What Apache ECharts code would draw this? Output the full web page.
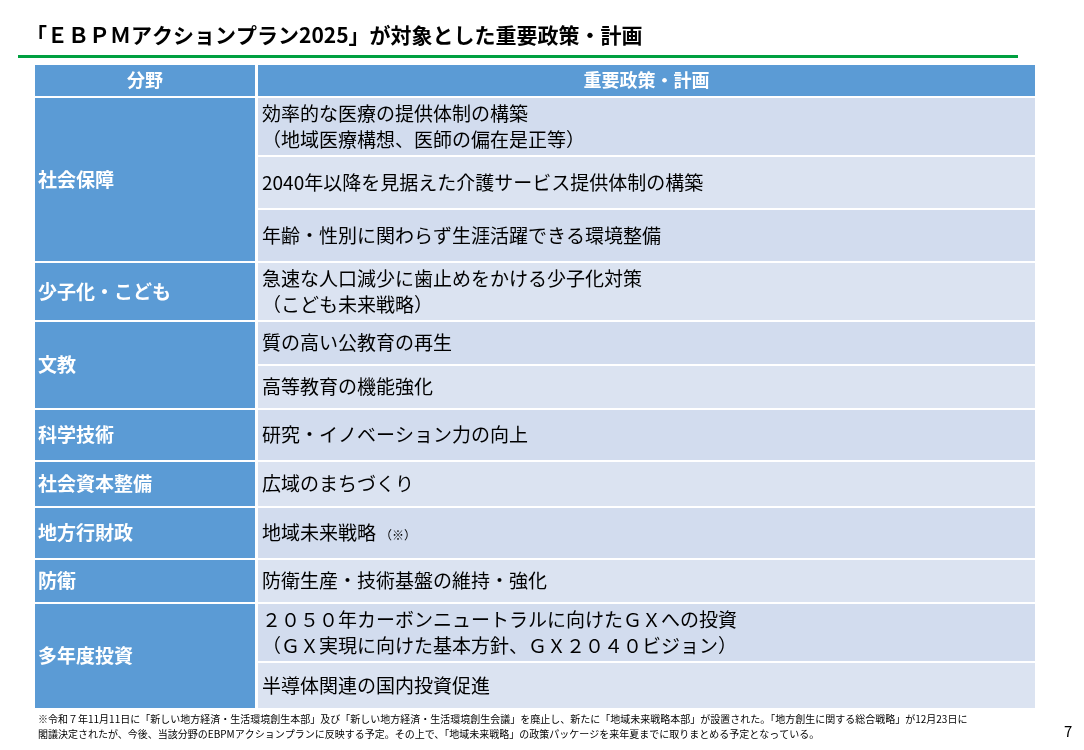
<!DOCTYPE html>
<html><head><meta charset="utf-8">
<script src="https://cdn.jsdelivr.net/npm/echarts@6/dist/echarts.min.js"></script>
<style>html,body{margin:0;padding:0;background:#fff}#c{width:1084px;height:750px}</style>
</head><body><div id="c"></div>
<script>
const title = "「ＥＢＰＭアクションプラン2025」が対象とした重要政策・計画";
const headers = ["分野", "重要政策・計画"];
const fields = ["社会保障", "少子化・こども", "文教", "科学技術", "社会資本整備", "地方行財政", "防衛", "多年度投資"];
const fieldRowCounts = [3, 1, 2, 1, 1, 1, 1, 2];
const policies = [
  "効率的な医療の提供体制の構築\n（地域医療構想、医師の偏在是正等）",
  "2040年以降を見据えた介護サービス提供体制の構築",
  "年齢・性別に関わらず生涯活躍できる環境整備",
  "急速な人口減少に歯止めをかける少子化対策\n（こども未来戦略）",
  "質の高い公教育の再生",
  "高等教育の機能強化",
  "研究・イノベーション力の向上",
  "広域のまちづくり",
  "地域未来戦略",
  "防衛生産・技術基盤の維持・強化",
  "２０５０年カーボンニュートラルに向けたＧＸへの投資\n（ＧＸ実現に向けた基本方針、ＧＸ２０４０ビジョン）",
  "半導体関連の国内投資促進"
];
const policyNotes = ["", "", "", "", "", "", "", "", "（※）", "", "", ""];
const rowHeights = [57, 51, 51, 57, 42, 42, 50, 44, 50, 42, 57, 45];
const footnote = "※令和７年11月11日に「新しい地方経済・生活環境創生本部」及び「新しい地方経済・生活環境創生会議」を廃止し、新たに「地域未来戦略本部」が設置された。「地方創生に関する総合戦略」が12月23日に\n閣議決定されたが、今後、当該分野のEBPMアクションプランに反映する予定。その上で、「地域未来戦略」の政策パッケージを来年夏までに取りまとめる予定となっている。";
const pageNo = "7";

const FONT = '"Noto Sans CJK JP", sans-serif';
const BLUE = '#5b9bd5';
const L0 = 35, L1 = 255, R0 = 258, R1 = 1035, GAP = 2;
const chart = echarts.init(document.getElementById('c'));
const els = [];
els.push({type:'text', left:26, top:25, style:{text:title, font:'bold 21px '+FONT, fill:'#000'}});
els.push({type:'rect', shape:{x:18,y:55,width:1000,height:3}, style:{fill:'#00a040'}});
const hy = 65, hh = 31;
els.push({type:'rect', shape:{x:L0,y:hy,width:L1-L0,height:hh}, style:{fill:BLUE}});
els.push({type:'rect', shape:{x:R0,y:hy,width:R1-R0,height:hh}, style:{fill:BLUE}});
els.push({type:'text', x:(L0+L1)/2, y:hy+hh/2, style:{text:headers[0], font:'bold 18px '+FONT, fill:'#fff', align:'center', verticalAlign:'middle'}});
els.push({type:'text', x:(R0+R1)/2, y:hy+hh/2, style:{text:headers[1], font:'bold 18px '+FONT, fill:'#fff', align:'center', verticalAlign:'middle'}});
let y = hy + hh + GAP;
const rowY = [];
rowHeights.forEach((h, i) => {
  rowY.push(y);
  els.push({type:'rect', shape:{x:R0,y:y,width:R1-R0,height:h}, style:{fill: i%2 ? '#dbe3f1' : '#d2dcee'}});
  els.push({type:'text', x:262, y:y+h/2, style:{text:policies[i], font:'19px '+FONT, fill:'#000', verticalAlign:'middle', lineHeight:26}});
  if (policyNotes[i]) {
    els.push({type:'text', x:262 + 19*policies[i].length + 4, y:y+h/2+2, style:{text:policyNotes[i], font:'12px '+FONT, fill:'#000', verticalAlign:'middle'}});
  }
  y += h + GAP;
});
let r = 0;
fields.forEach((f, i) => {
  const n = fieldRowCounts[i];
  const top = rowY[r];
  const bottom = rowY[r+n-1] + rowHeights[r+n-1];
  els.push({type:'rect', shape:{x:L0,y:top,width:L1-L0,height:bottom-top}, style:{fill:BLUE}});
  els.push({type:'text', x:38, y:(top+bottom)/2, style:{text:f, font:'bold 19px '+FONT, fill:'#fff', verticalAlign:'middle'}});
  r += n;
});
els.push({type:'text', left:38, top:712, style:{text:footnote, font:'10px '+FONT, fill:'#000', lineHeight:15}});
els.push({type:'text', left:1064, top:724, style:{text:pageNo, font:'15px '+FONT, fill:'#000'}});
chart.setOption({animation:false, graphic:{elements:els}});
</script></body></html>
